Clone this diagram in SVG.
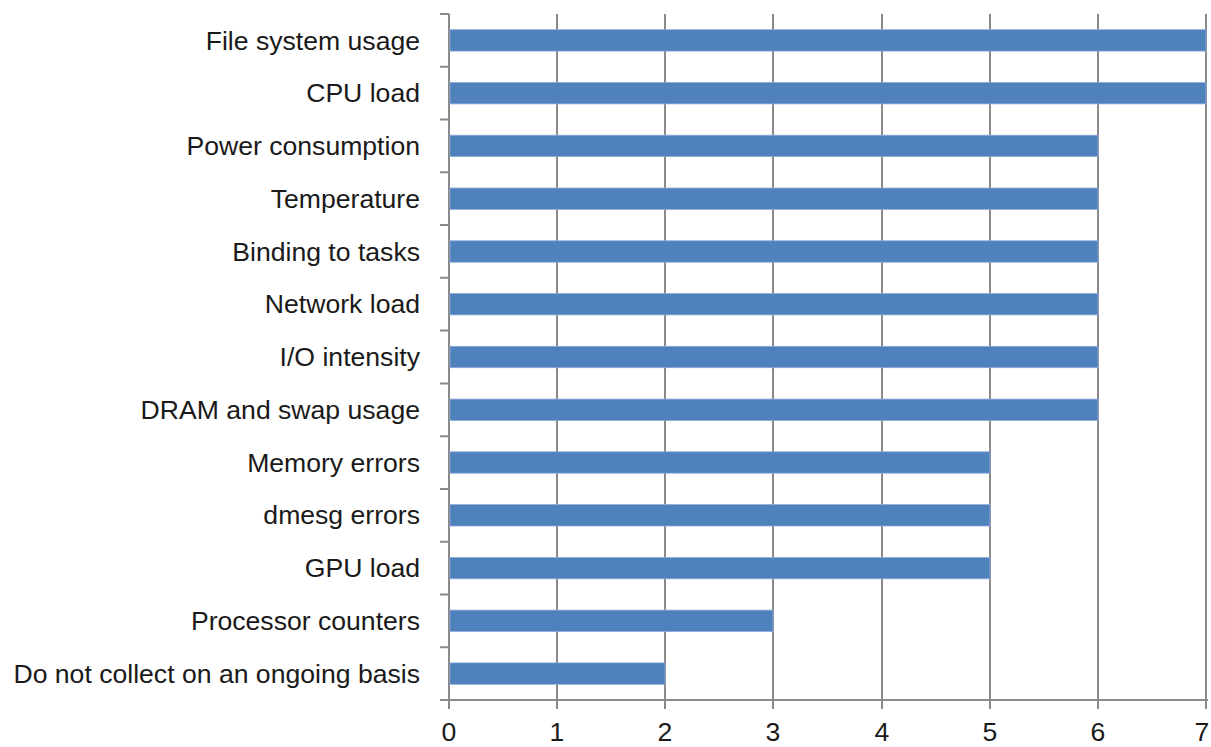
<svg xmlns="http://www.w3.org/2000/svg" width="1211" height="747" viewBox="0 0 1211 747">
<style>
.grid{stroke:#8a8a8a;stroke-width:2;fill:none}
.bar{fill:#4f81bd;stroke:#8eaadb;stroke-width:0.8}
.lbl{font-family:"Liberation Sans",Arial,sans-serif;font-size:26.6px;fill:#1a1a1a;text-anchor:end}
.xl{font-family:"Liberation Sans",Arial,sans-serif;font-size:26.6px;fill:#1a1a1a;text-anchor:middle}
</style>
<rect width="1211" height="747" fill="#fff"/>
<g id="connectors">
<path class="grid" d="M557,14V709M665,14V709M773,14V709M882,14V709M990,14V709M1098,14V709M1206,14V709"/>
<path class="grid" d="M449,14V709M440,700H1208M440,14H449M440,66.8H449M440,119.5H449M440,172.3H449M440,225.1H449M440,277.8H449M440,330.6H449M440,383.4H449M440,436.2H449M440,488.9H449M440,541.7H449M440,594.5H449M440,647.2H449"/>
</g>
<g id="bars">
<rect id="b1" class="bar" x="450" y="29.7" width="756" height="21.4"/>
<rect id="b2" class="bar" x="450" y="82.5" width="756" height="21.4"/>
<rect id="b3" class="bar" x="450" y="135.2" width="648" height="21.4"/>
<rect id="b4" class="bar" x="450" y="188" width="648" height="21.4"/>
<rect id="b5" class="bar" x="450" y="240.8" width="648" height="21.4"/>
<rect id="b6" class="bar" x="450" y="293.5" width="648" height="21.4"/>
<rect id="b7" class="bar" x="450" y="346.3" width="648" height="21.4"/>
<rect id="b8" class="bar" x="450" y="399.1" width="648" height="21.4"/>
<rect id="b9" class="bar" x="450" y="451.8" width="540" height="21.4"/>
<rect id="b10" class="bar" x="450" y="504.6" width="540" height="21.4"/>
<rect id="b11" class="bar" x="450" y="557.4" width="540" height="21.4"/>
<rect id="b12" class="bar" x="450" y="610.1" width="323" height="21.4"/>
<rect id="b13" class="bar" x="450" y="662.9" width="215" height="21.4"/>
</g>
<g id="labels">
<text class="lbl" x="420" y="49.5">File system usage</text>
<text class="lbl" x="420" y="102.3">CPU load</text>
<text class="lbl" x="420" y="155">Power consumption</text>
<text class="lbl" x="420" y="207.8">Temperature</text>
<text class="lbl" x="420" y="260.6">Binding to tasks</text>
<text class="lbl" x="420" y="313.3">Network load</text>
<text class="lbl" x="420" y="366.1">I/O intensity</text>
<text class="lbl" x="420" y="418.9">DRAM and swap usage</text>
<text class="lbl" x="420" y="471.6">Memory errors</text>
<text class="lbl" x="420" y="524.4">dmesg errors</text>
<text class="lbl" x="420" y="577.2">GPU load</text>
<text class="lbl" x="420" y="629.9">Processor counters</text>
<text class="lbl" x="420" y="682.7">Do not collect on an ongoing basis</text>
</g>
<g id="xaxis">
<text class="xl" x="449" y="741">0</text>
<text class="xl" x="557" y="741">1</text>
<text class="xl" x="665" y="741">2</text>
<text class="xl" x="773" y="741">3</text>
<text class="xl" x="882" y="741">4</text>
<text class="xl" x="990" y="741">5</text>
<text class="xl" x="1098" y="741">6</text>
<text class="xl" x="1202" y="741">7</text>
</g>
</svg>
